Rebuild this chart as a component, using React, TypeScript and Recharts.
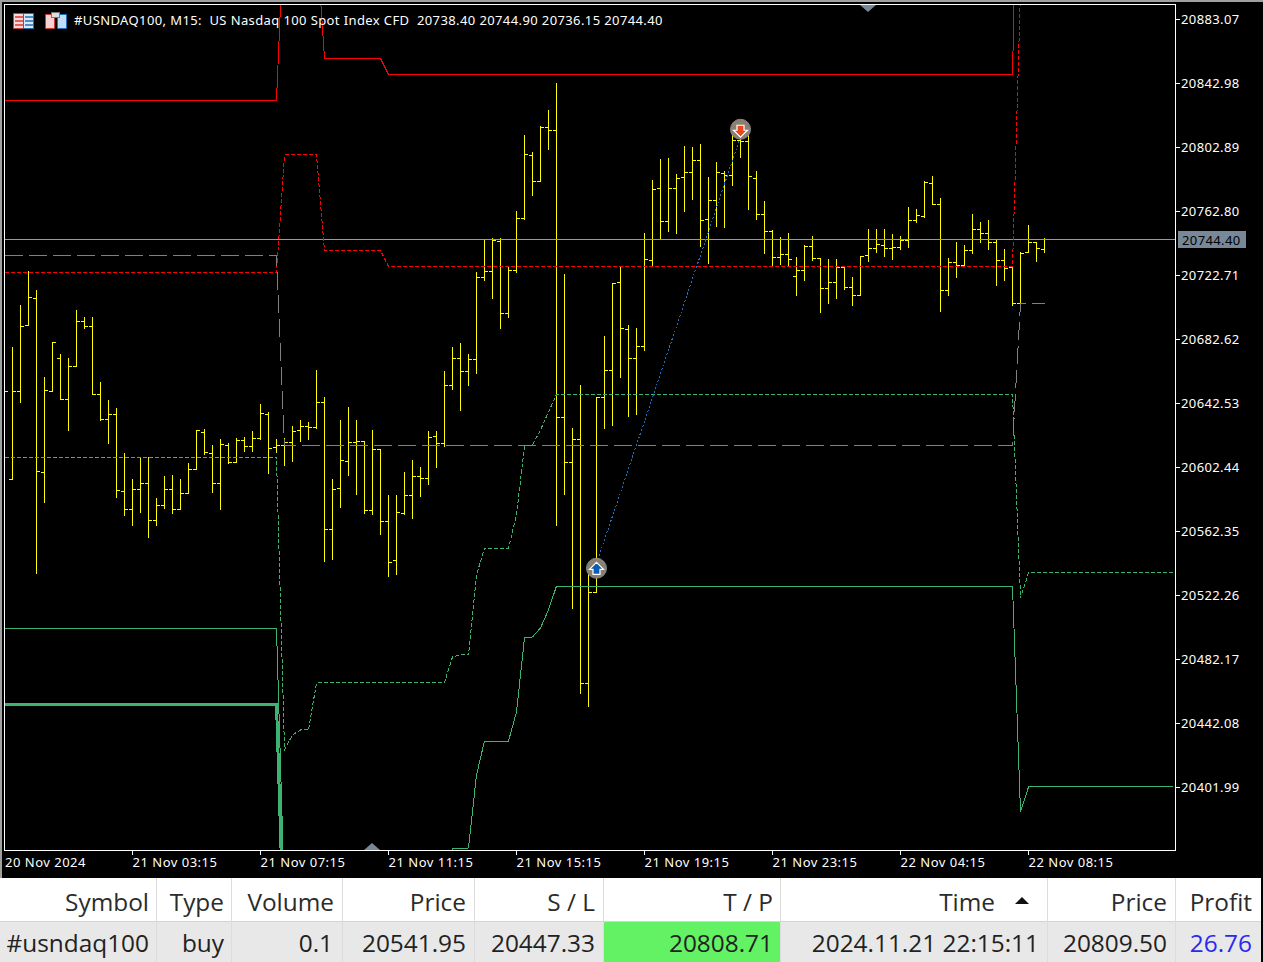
import React from "react";
import { ComposedChart, Bar, Line, XAxis, YAxis, ReferenceLine, ReferenceDot } from "recharts";

// OHLC of the visible M15 bars, index 0..130
const opens = [20680,20594.3,20649.8,20691.0,20708.1,20599.1,20649.8,20670.5,20644.6,20665.5,20693.7,20690.6,20647.8,20632.3,20635.4,20587.2,20575.9,20588.5,20592.2,20569.0,20578.4,20588.5,20575.9,20585.9,20600.6,20624.2,20611.0,20592.2,20616.0,20605.4,20619.1,20615.4,20620.4,20635.6,20614.8,20616.0,20617.9,20625.2,20627.9,20627.1,20643.0,20563.4,20589.1,20606.0,20617.9,20618.5,20575.3,20613.5,20568.4,20544.0,20573.4,20584.7,20596.6,20595.3,20621.7,20617.3,20653.6,20670.5,20662.4,20669.9,20721.3,20725.0,20743.8,20698.7,20725.4,20758.2,20797.6,20781.4,20815.2,20813.3,20633.4,20605.4,20619.4,20467.0,20524.0,20646.1,20663.0,20718.2,20688.7,20670.6,20678.1,20731.9,20776.6,20756.4,20777.0,20783.9,20787.1,20794.6,20757.6,20769.5,20786.4,20785.2,20807.1,20806.5,20783.3,20760.3,20750.1,20733.8,20735.6,20721.9,20725.6,20740.7,20733.2,20714.4,20718.2,20727.5,20715.0,20710.0,20735.0,20739.4,20741.3,20739.4,20740.0,20744.4,20757.0,20759.3,20780.2,20767.0,20713.1,20730.6,20728.8,20738.0,20751.3,20749.0,20743.2,20731.9,20727.5,20705.0,20736.9,20743.2,20738.8];
const highs = [20680,20677.2,20703.3,20725.0,20712.7,20658.8,20680.5,20673.2,20670.7,20700.2,20696.4,20695.8,20655.1,20644.4,20638.8,20611.0,20594.9,20608.5,20608.5,20583.0,20596.8,20597.4,20594.3,20604.9,20625.2,20626.2,20615.6,20619.4,20617.3,20620.4,20621.0,20624.4,20641.9,20636.7,20619.8,20620.6,20627.7,20631.3,20630.6,20662.6,20645.7,20594.3,20631.3,20639.4,20631.3,20618.5,20625.0,20613.5,20584.3,20584.3,20599.3,20606.8,20602.4,20624.4,20624.4,20662.0,20677.6,20679.5,20673.2,20724.0,20745.1,20745.7,20745.7,20727.1,20762.2,20809.8,20799.7,20815.8,20826.0,20842.7,20723.3,20626.3,20653.2,20534.8,20646.1,20684.5,20717.5,20727.9,20691.2,20689.5,20748.4,20782.2,20794.8,20795.4,20785.4,20803.5,20802.7,20804.2,20783.5,20792.9,20787.3,20811.7,20811.7,20811.7,20787.3,20768.5,20750.7,20746.3,20748.8,20733.8,20741.3,20747.0,20733.2,20732.5,20732.5,20727.5,20721.2,20734.4,20750.9,20751.5,20750.9,20747.8,20747.1,20764.7,20764.0,20781.0,20784.1,20770.7,20733.2,20743.2,20741.3,20760.9,20755.9,20757.0,20744.4,20738.4,20727.5,20736.7,20754.0,20743.2,20745.7];
const lows = [20649.8,20594.3,20642.7,20691.0,20536.0,20580.1,20649.8,20644.6,20625.2,20665.5,20689.3,20647.8,20631.7,20617.1,20583.2,20572.0,20565.7,20573.8,20558.2,20565.7,20576.3,20573.2,20575.9,20585.9,20600.6,20610.4,20586.4,20575.9,20604.7,20605.4,20612.0,20612.0,20619.8,20598.3,20611.4,20603.3,20605.8,20618.7,20619.4,20626.5,20543.1,20544.4,20577.0,20597.4,20585.5,20573.2,20572.4,20560.1,20533.7,20535.0,20572.4,20570.1,20583.7,20591.2,20602.4,20615.0,20650.7,20638.1,20653.8,20660.7,20719.0,20708.3,20688.9,20695.8,20724.1,20757.3,20772.8,20781.4,20801.6,20566.1,20585.5,20513.7,20460.5,20452.3,20523.7,20626.5,20628.2,20658.4,20634.0,20635.2,20675.6,20728.6,20745.1,20749.7,20749.0,20762.2,20770.3,20740.5,20729.8,20752.8,20752.2,20778.5,20796.2,20763.5,20757.4,20736.1,20728.2,20729.6,20728.2,20710.0,20719.2,20731.9,20699.3,20704.8,20708.1,20713.8,20703.5,20710.0,20731.0,20736.9,20734.6,20732.7,20738.4,20740.2,20755.9,20758.8,20767.0,20699.7,20710.0,20721.2,20728.8,20735.9,20743.0,20738.4,20716.0,20719.2,20703.7,20704.8,20736.9,20731.0,20736.9];
const closes = [20649.8,20649.8,20690.6,20708.7,20599.5,20650.5,20680.5,20644.6,20665.5,20693.7,20690.6,20647.8,20632.3,20635.4,20587.8,20575.9,20588.5,20592.2,20569.0,20578.4,20588.5,20575.9,20585.9,20600.6,20625.0,20611.6,20592.2,20616.6,20605.4,20619.1,20615.4,20620.4,20636.1,20614.1,20616.0,20617.9,20624.8,20627.9,20627.1,20643.0,20563.4,20588.5,20606.6,20617.9,20618.5,20575.3,20613.5,20568.4,20542.7,20574.0,20584.7,20596.6,20595.3,20621.0,20617.3,20653.2,20670.5,20662.4,20669.9,20721.3,20725.0,20744.4,20698.7,20725.6,20758.2,20798.3,20781.4,20815.4,20813.3,20633.4,20605.4,20619.8,20467.0,20524.0,20646.1,20663.0,20717.1,20689.4,20670.6,20678.1,20732.6,20776.2,20756.4,20777.0,20783.3,20787.1,20794.6,20757.0,20769.5,20787.1,20785.2,20807.1,20806.5,20784.3,20760.3,20750.1,20733.8,20735.6,20732.5,20725.6,20740.7,20733.2,20714.4,20718.2,20727.5,20715.0,20710.0,20734.4,20739.4,20741.9,20739.4,20740.0,20744.4,20757.0,20760.1,20780.8,20767.0,20713.1,20730.6,20728.8,20738.0,20751.3,20749.0,20743.2,20731.9,20726.9,20705.0,20736.3,20743.2,20739.4,20745.0];

// Indicator bands: bar index and level at each point where the band changes
const redSolidIdx = [0,34,35,39,40,47,48,126,127,130];
const redSolidVal = [20832.0,20832.0,20951,20934,20858.3,20858.3,20848.3,20848.3,21082.9,21082.9];
const redDashIdx = [0,34,35,39,40,47,48,126,127,130];
const redDashVal = [20724.3,20724.3,20797.9,20797.9,20738.0,20738.0,20728.0,20728.0,20901.2,20901.2];
const greySolidIdx = [0,34,35,126,127,130];
const greyVal = [20734.9,20734.9,20615.9,20615.9,20704.9,20704.9];
const greenDashIdx = [0,34,35,36,37,38,39,55,56,57,58,59,60,63,64,65,66,67,68,69,126,127,128,146];
const greenDashVal = [20608.4,20608.4,20425.2,20434.6,20437.7,20437.7,20467.2,20467.5,20483.5,20484.7,20484.7,20534.8,20551.7,20551.7,20572.4,20615.6,20616.3,20625.6,20636.9,20647.9,20647.9,20520.4,20536.1,20536.1];
const greenSolidIdx = [0,34,35,55,56,57,58,59,60,63,64,65,66,67,68,69,126,127,128,146];
const greenSolidVal = [20501.3,20501.3,20331.2,20331.2,20363.2,20363.5,20363.8,20409.5,20430.8,20430.8,20449.0,20495.4,20496.0,20501.6,20512.9,20527.9,20527.9,20386.4,20402.0,20402.0];
const greenThickIdx = [0,34,35];
const greenThickVal = [20453.7,20453.7,20293.6];
const tradeIdx = [74,92];
const tradeVal = [20541.95,20809.50];

const priceTicks = [20883.07,20842.98,20802.89,20762.80,20722.71,20682.62,20642.53,20602.44,20562.35,20522.26,20482.17,20442.08,20401.99];
const timeTickIdx = [0,16,32,48,64,80,96,112,128];
const timeTickLabels = ["20 Nov 2024","21 Nov 03:15","21 Nov 07:15","21 Nov 11:15","21 Nov 15:15","21 Nov 19:15","21 Nov 23:15","22 Nov 04:15","22 Nov 08:15"];
const bidDrawn = 20745.0;
const bidLabel = "20744.40";
const title = "#USNDAQ100, M15:  US Nasdaq 100 Spot Index CFD  20738.40 20744.90 20736.15 20744.40";

const tableHeaders = ["Symbol","Type","Volume","Price","S / L","T / P","Time","Price","Profit"];
const tableRow = ["#usndaq100","buy","0.1","20541.95","20447.33","20808.71","2024.11.21 22:15:11","20809.50","26.76"];
const colEdges = [0,156,231,342,474,603,780,1047,1175,1261];
const headRight = [149,224,334,466,595,773,995,1167,1252];
const rowRight = [149,224,333,466,595,773,1039,1167,1252];

const rows: any[] = [];
for (let i = 0; i <= 146; i++) {
  const row: any = { i };
  if (i < opens.length) {
    row.range = [lows[i], highs[i]];
    row.open = opens[i]; row.high = highs[i]; row.low = lows[i]; row.close = closes[i];
  }
  rows.push(row);
}
const addSeries = (key: string, idx: number[], val: number[]) => {
  idx.forEach((x, k) => { rows[x][key] = val[k]; });
};
addSeries("redSolid", redSolidIdx, redSolidVal);
addSeries("redDash", redDashIdx, redDashVal);
addSeries("grey", greySolidIdx, greyVal);
addSeries("greenDash", greenDashIdx, greenDashVal);
addSeries("greenSolid", greenSolidIdx, greenSolidVal);
addSeries("greenThick", greenThickIdx, greenThickVal);
addSeries("trade", tradeIdx, tradeVal);

const YELLOW = "#ffff00";
const OhlcShape = (p: any) => {
  const { x, width, y, height, payload } = p;
  if (!payload || payload.high === undefined) return null;
  const cx = Math.floor(x + width / 2) + 0.5;
  const span = payload.high - payload.low || 1;
  const at = (v: number) => Math.floor(y + ((payload.high - v) / span) * height) + 0.5;
  const top = at(payload.high), bot = at(payload.low), oy = at(payload.open), cy = at(payload.close);
  return (
    <g stroke={YELLOW} strokeWidth={1} shapeRendering="crispEdges">
      <line x1={cx} x2={cx} y1={top - 0.5} y2={bot + 0.5} />
      <line x1={cx - 3.5} x2={cx} y1={oy} y2={oy} />
      <line x1={cx} x2={cx + 3.5} y1={cy} y2={cy} />
    </g>
  );
};

const labelFont = "'Noto Sans'";
const PriceTick = (p: any) => {
  const { y, payload } = p;
  const ry = Math.floor(y) + 0.5;
  return (
    <g>
      <line x1={1176} x2={1180} y1={ry} y2={ry} stroke="#fff" shapeRendering="crispEdges" />
      <text x={1181} y={ry + 4} fill="#fff" fontFamily={labelFont} fontSize={13} letterSpacing={0.38}>{payload.value.toFixed(2)}</text>
    </g>
  );
};
const TimeTick = (p: any) => {
  const { x, payload, index } = p;
  const rx = Math.floor(x) + 0.5;
  return (
    <g>
      {index > 0 && <line x1={rx} x2={rx} y1={851} y2={855} stroke="#fff" shapeRendering="crispEdges" />}
      <text x={Math.max(rx, 5)} y={867} fill="#fff" fontFamily={labelFont} fontSize={13} letterSpacing={0.5}>{timeTickLabels[index]}</text>
    </g>
  );
};

const Marker = (fill: string, up: boolean) => (p: any) => {
  const { cx, cy } = p;
  const s = up ? -1 : 1;
  const off = up ? 0 : 2;
  const pts = [[-3.5, -6], [3.5, -6], [3.5, -1], [7, -1], [0, 6], [-7, -1], [-3.5, -1]]
    .map(([a, b]) => `${cx + a},${cy + off + s * b}`).join(" ");
  return (
    <g>
      <circle cx={cx} cy={cy} r={10} fill="#8a7f70" stroke="#84898c" strokeWidth={1} />
      <polygon points={pts} fill={fill} stroke="#fff" strokeWidth={1.2} />
    </g>
  );
};

const Icons = () => (
  <svg width={70} height={30} style={{ position: "absolute", left: 0, top: 5 }}>
    <rect x={13.5} y={8.5} width={10} height={15} fill="#f8d8d8" stroke="#c83a32" />
    <rect x={23.5} y={8.5} width={10} height={15} fill="#d8e8f8" stroke="#1f6fb8" />
    {[12, 16, 20].map((y) => <line key={y} x1={15} x2={23} y1={y} y2={y} stroke="#d83a32" strokeWidth={1.5} />)}
    {[12, 16, 20].map((y) => <line key={y} x1={25} x2={33} y1={y} y2={y} stroke="#1f6fb8" strokeWidth={1.5} />)}
    <path d="M45.5 9.5h9v14h-9z" fill="#fbd0d0" stroke="#c83a32" />
    <path d="M57.5 9.5h9v14h-9z" fill="#bfdcf8" stroke="#1f6fb8" />
    <rect x={51.5} y={7.5} width={8} height={5} fill="#ddd" stroke="#777" />
  </svg>
);

const crisp = { shapeRendering: "crispEdges" } as any;

export default function App() {
  return (
    <div style={{ position: "absolute", left: 0, top: 0, width: 1263, height: 962, background: "#000", overflow: "hidden" }}>
      <div style={{ position: "absolute", left: 0, top: 0, width: 1263, height: 2, background: "#a0a0a0" }} />
      <div style={{ position: "absolute", left: 0, top: 0, width: 2, height: 878, background: "#a0a0a0" }} />
      <div style={{ position: "absolute", left: 0, top: 0 }}>
        <ComposedChart width={1263} height={878} data={rows} margin={{ top: 5, right: 0, bottom: 0, left: 5 }}>
          <XAxis dataKey="i" type="number" domain={[0.0625, 146.3125]} allowDataOverflow height={28}
            ticks={timeTickIdx} tick={<TimeTick />} axisLine={false} tickLine={false} interval={0} />
          <YAxis orientation="right" type="number" domain={[20362.53, 20891.84]} allowDataOverflow width={88}
            ticks={priceTicks} tick={<PriceTick />} axisLine={false} tickLine={false} interval={0} />
          <ReferenceLine y={bidDrawn} stroke="#9a9a9a" strokeWidth={1} {...crisp} />
          <Line dataKey="redSolid" connectNulls stroke="#ff0000" strokeWidth={1} dot={false} isAnimationActive={false} {...crisp} />
          <Line dataKey="redDash" connectNulls stroke="#ff0000" strokeWidth={1} strokeDasharray="4 2" dot={false} isAnimationActive={false} {...crisp} />
          <Line dataKey="grey" connectNulls stroke="#808080" strokeWidth={1} strokeDasharray="18 6" dot={false} isAnimationActive={false} {...crisp} />
          <Line dataKey="greenDash" connectNulls stroke="#3cb371" strokeWidth={1} strokeDasharray="4 2" dot={false} isAnimationActive={false} {...crisp} />
          <Line dataKey="greenSolid" connectNulls stroke="#3cb371" strokeWidth={1} dot={false} isAnimationActive={false} {...crisp} />
          <Line dataKey="greenThick" connectNulls stroke="#3cb371" strokeWidth={3} dot={false} isAnimationActive={false} {...crisp} />
          <Line dataKey="trade" connectNulls stroke="#1e6fc8" strokeWidth={1} strokeDasharray="2 2" dot={false} isAnimationActive={false} {...crisp} />
          <Bar dataKey="range" shape={<OhlcShape />} isAnimationActive={false} barSize={1} />
          <ReferenceDot x={74} y={20539.0} r={10} shape={Marker("#0a5cb4", true)} ifOverflow="visible" />
          <ReferenceDot x={92} y={20814.0} r={10} shape={Marker("#e8481c", false)} ifOverflow="visible" />
        </ComposedChart>
      </div>
      <svg width={1263} height={878} style={{ position: "absolute", left: 0, top: 0, pointerEvents: "none" }}>
        <rect x={4.5} y={4.5} width={1171} height={846} fill="none" stroke="#fff" shapeRendering="crispEdges" />
        <polygon points="860,5 876,5 868,12" fill="#778899" />
        <polygon points="364,850 380,850 372,843" fill="#778899" />
        <rect x={1178} y={231} width={68} height={17} fill="#778899" />
        <text x={1182} y={245} fontFamily={labelFont} fontSize={13} letterSpacing={0.38} fill="#000">{bidLabel}</text>
      </svg>
      <Icons />
      <div style={{ position: "absolute", left: 74, top: 11, color: "#fff", font: "13px 'Noto Sans'", letterSpacing: 0.39, whiteSpace: "pre", lineHeight: "18px" }}>{title}</div>
      <div style={{ position: "absolute", left: 0, top: 878, width: 1261, height: 43, background: "#fff" }} />
      <div style={{ position: "absolute", left: 0, top: 921, width: 1261, height: 41, background: "#e8e8e8", borderTop: "1px solid #d4d4d4", boxSizing: "border-box" }} />
      <div style={{ position: "absolute", left: colEdges[5], top: 922, width: colEdges[6] - colEdges[5], height: 40, background: "#63f263" }} />
      {colEdges.slice(1, -1).map((x) => (
        <div key={x} style={{ position: "absolute", left: x, top: 878, width: 1, height: 84, background: "#dcdcdc" }} />
      ))}
      {tableHeaders.map((t, k) => (
        <div key={"h" + k} style={{ position: "absolute", right: 1263 - headRight[k], top: 884, font: "24.4px 'Open Sans'", lineHeight: "36px", color: "#2b2b2b", whiteSpace: "pre" }}>{t}</div>
      ))}
      {tableRow.map((t, k) => (
        <div key={"r" + k} style={{ position: "absolute", right: 1263 - rowRight[k], top: 925, font: "24.4px 'Open Sans'", lineHeight: "36px", color: k === 8 ? "#2a2af0" : "#222", whiteSpace: "pre" }}>{t}</div>
      ))}
      <svg width={20} height={10} style={{ position: "absolute", left: 1012, top: 896 }}>
        <polygon points="3,8 17,8 10,1" fill="#111" />
      </svg>
    </div>
  );
}
